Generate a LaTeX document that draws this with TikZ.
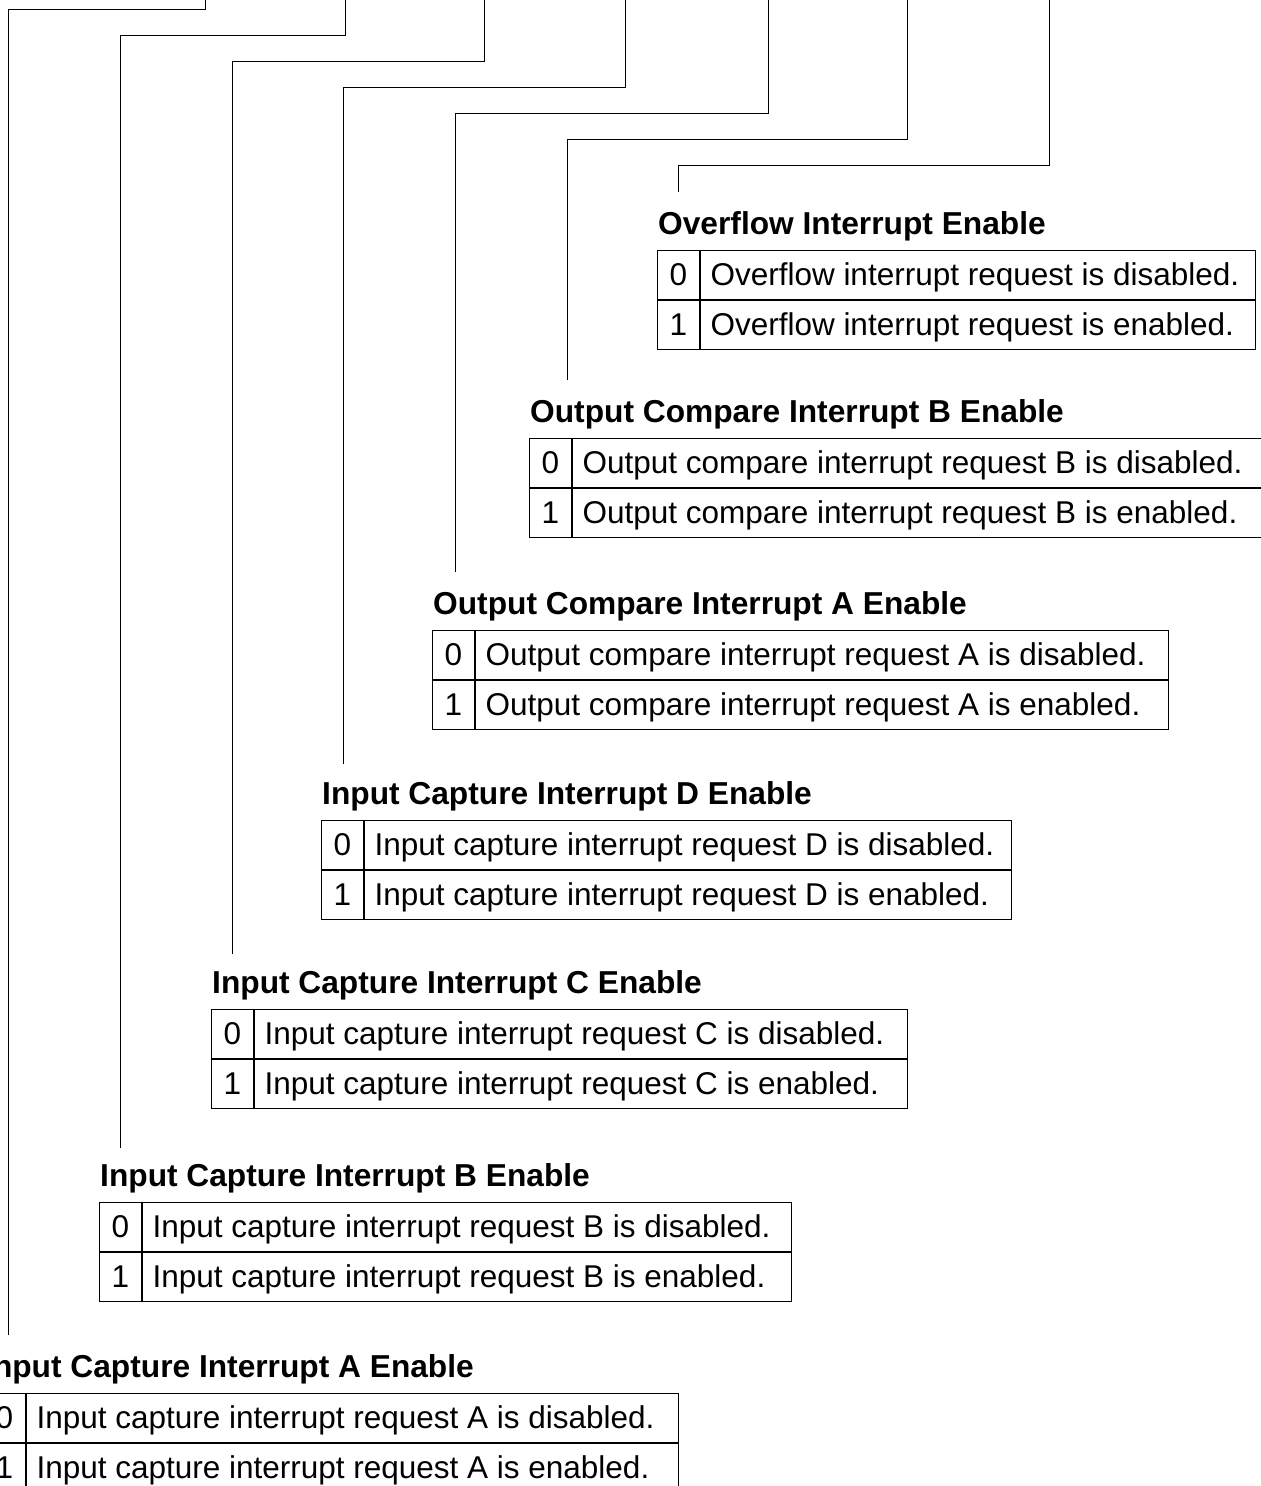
\documentclass[tikz,border=0pt]{standalone}
\usepackage{fontspec}
\setmainfont{Liberation Sans}
\tikzset{
  wire/.style={draw=black, line width=1pt},
  cellbase/.style={draw=black, line width=1pt, inner ysep=0pt, minimum height=49pt,
    text height=22.5pt, text depth=1pt, font=\fontsize{31.5}{36}\selectfont},
  numcell/.style={cellbase, minimum width=42pt, inner xsep=0pt, anchor=north west},
  textcell/.style={cellbase, inner xsep=10pt, anchor=north west},
  titlelabel/.style={inner sep=0pt, anchor=base west, font=\fontsize{31.7}{36}\selectfont\bfseries}
}
\newcommand\regblock[7]{%
  \node[titlelabel] (#1title) at ({#2+1},{#3-16}) {#5};
  \node[numcell] (#1n0) at ({#2},{#3}) {0};
  \node[textcell] (#1t0) at (#1n0.north east) {\makebox[#4pt][l]{#6}};
  \node[numcell] (#1n1) at (#1n0.south west) {1};
  \node[textcell] (#1t1) at (#1n1.north east) {\makebox[#4pt][l]{#7}};
}
\begin{document}
\begin{tikzpicture}[x=1pt,y=-1pt]
\useasboundingbox (0,0) rectangle (1261,1486);
\clip (0,0) rectangle (1261,1486);

\regblock{ovf}{657}{250}{535}{Overflow Interrupt Enable}{Overflow interrupt request is disabled.}{Overflow interrupt request is enabled.}
\regblock{ocb}{529}{438}{669}{Output Compare Interrupt B Enable}{Output compare interrupt request B is disabled.}{Output compare interrupt request B is enabled.}
\regblock{oca}{432}{630}{673}{Output Compare Interrupt A Enable}{Output compare interrupt request A is disabled.}{Output compare interrupt request A is enabled.}
\regblock{icd}{321}{820}{627}{Input Capture Interrupt D Enable}{Input capture interrupt request D is disabled.}{Input capture interrupt request D is enabled.}
\regblock{icc}{211}{1009}{633}{Input Capture Interrupt C Enable}{Input capture interrupt request C is disabled.}{Input capture interrupt request C is enabled.}
\regblock{icb}{99}{1202}{629}{Input Capture Interrupt B Enable}{Input capture interrupt request B is disabled.}{Input capture interrupt request B is enabled.}
\regblock{ica}{-17}{1393}{632}{Input Capture Interrupt A Enable}{Input capture interrupt request A is disabled.}{Input capture interrupt request A is enabled.}

% connector coordinates
\coordinate (ovfS) at (1049,-2); \coordinate (ovfH) at (678,165); \coordinate (ovfE) at (678,192);
\coordinate (ocbS) at (907,-2);  \coordinate (ocbH) at (567,139); \coordinate (ocbE) at (567,380);
\coordinate (ocaS) at (768,-2);  \coordinate (ocaH) at (455,113); \coordinate (ocaE) at (455,572);
\coordinate (icdS) at (625,-2);  \coordinate (icdH) at (343,87);  \coordinate (icdE) at (343,764);
\coordinate (iccS) at (484,-2);  \coordinate (iccH) at (232,61);  \coordinate (iccE) at (232,954);
\coordinate (icbS) at (345,-2);  \coordinate (icbH) at (120,35);  \coordinate (icbE) at (120,1148);
\coordinate (icaS) at (205,-2);  \coordinate (icaH) at (8,9);     \coordinate (icaE) at (8,1335);

\draw[wire] (ovfS) |- (ovfH) -- (ovfE);
\draw[wire] (ocbS) |- (ocbH) -- (ocbE);
\draw[wire] (ocaS) |- (ocaH) -- (ocaE);
\draw[wire] (icdS) |- (icdH) -- (icdE);
\draw[wire] (iccS) |- (iccH) -- (iccE);
\draw[wire] (icbS) |- (icbH) -- (icbE);
\draw[wire] (icaS) |- (icaH) -- (icaE);
\end{tikzpicture}
\end{document}
